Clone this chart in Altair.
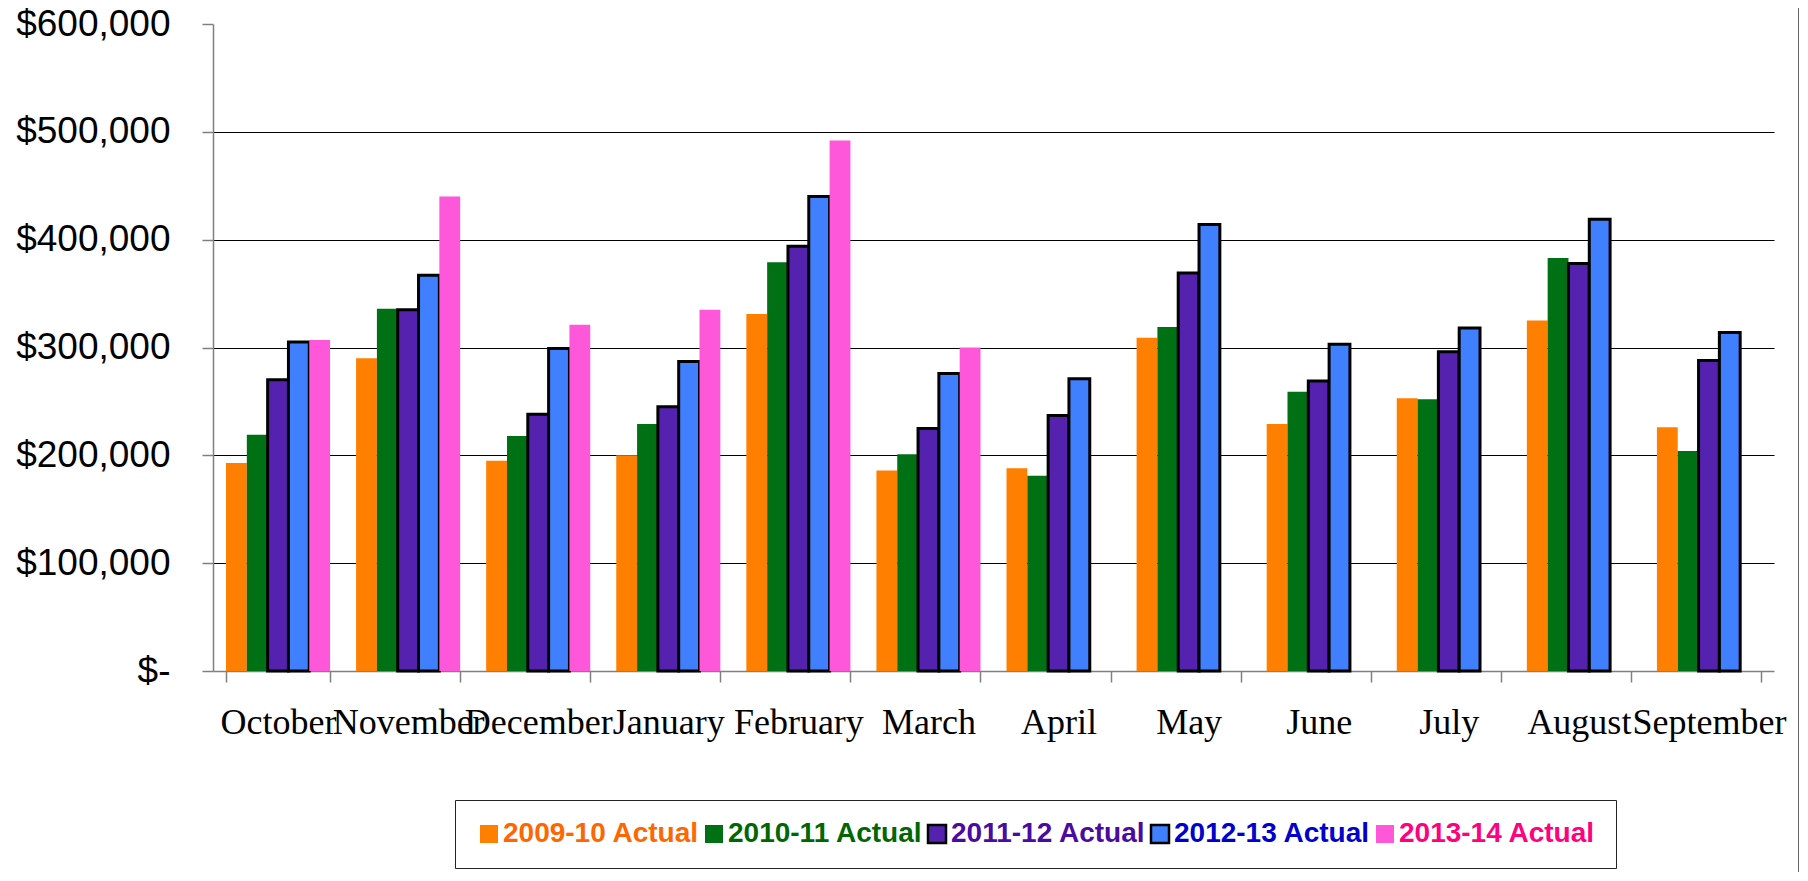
import altair as alt
import pandas as pd

months = ["October", "November", "December", "January", "February", "March",
          "April", "May", "June", "July", "August", "September"]
series = ["2009-10 Actual", "2010-11 Actual", "2011-12 Actual", "2012-13 Actual", "2013-14 Actual"]

v0910 = [193000, 290000, 195000, 200000, 331000, 186000, 188000, 309000, 229000, 253000, 325000, 226000]
v1011 = [219000, 336000, 218000, 229000, 379000, 201000, 181000, 319000, 259000, 252000, 383000, 204000]
v1112 = [270000, 335000, 238000, 245000, 394000, 225000, 237000, 369000, 269000, 296000, 378000, 288000]
v1213 = [305000, 367000, 299000, 287000, 440000, 276000, 271000, 414000, 303000, 318000, 419000, 314000]
v1314 = [307000, 440000, 321000, 335000, 492000, 300000, None, None, None, None, None, None]

bar_colors = ["#FF7F00", "#007015", "#5522B0", "#4080FF", "#FF57D9"]
label_colors = ["#FF6600", "#006600", "#4B0AA0", "#0000CC", "#FF0080"]
outlined = ["2011-12 Actual", "2012-13 Actual"]
y_ticks = [0, 100000, 200000, 300000, 400000, 500000, 600000]

rows = []
for s, vals in zip(series, [v0910, v1011, v1112, v1213, v1314]):
    for m, v in zip(months, vals):
        if v is not None:
            rows.append({"month": m, "series": s, "value": v})
df = pd.DataFrame(rows)

label_color_expr = " : ".join(
    [f"datum.value == '{s}' ? '{c}'" for s, c in zip(series, label_colors)]
) + " : 'black'"
stroke_w_expr = "indexof(" + str(outlined) + ", datum.value) >= 0 ? 2.5 : 0"

legend = alt.Legend(
    title=None, orient="none", legendX=242, legendY=776,
    direction="horizontal", columns=5,
    symbolType="square", symbolSize=324,
    symbolStrokeColor="black", symbolStrokeWidth=alt.ExprRef(stroke_w_expr),
    labelFont="Liberation Sans", labelFontSize=28, labelFontWeight="bold",
    labelColor=alt.ExprRef(label_color_expr),
    labelLimit=400, labelOffset=0, columnPadding=0,
    strokeColor="#222222", fillColor="white", padding=20,
)

bars = alt.Chart(df).mark_bar(stroke="black").encode(
    x=alt.X("month:N", sort=months,
            scale=alt.Scale(paddingInner=0.2, paddingOuter=0.1),
            axis=alt.Axis(title=None, tickBand="extent", labelAngle=0,
                          labelFont="Liberation Serif", labelFontSize=36,
                          labelColor="black", labelOverlap=False,
                          labelPadding=23, tickSize=11,
                          domainColor="#808080", tickColor="#808080",
                          domainWidth=1.5, tickWidth=1.5, grid=False)),
    xOffset=alt.XOffset("series:N", sort=series,
                        scale=alt.Scale(domain=series, paddingInner=0, paddingOuter=0)),
    y=alt.Y("value:Q",
            scale=alt.Scale(domain=[0, 600000], nice=False),
            axis=alt.Axis(title=None, values=y_ticks,
                          labelExpr="datum.value == 0 ? '$-' : '$' + format(datum.value, ',')",
                          labelFont="Liberation Sans", labelFontSize=37,
                          labelColor="black", labelPadding=32, tickSize=11,
                          domainColor="#808080", tickColor="#808080",
                          domainWidth=1.5, tickWidth=1.5,
                          gridColor="black", gridWidth=1.2,
                          gridOpacity={"condition": {"test": "datum.value == 0 || datum.value >= 600000",
                                                     "value": 0},
                                       "value": 1})),
    color=alt.Color("series:N",
                    scale=alt.Scale(domain=series, range=bar_colors),
                    legend=legend),
    strokeWidth=alt.condition(
        alt.FieldOneOfPredicate(field="series", oneOf=outlined),
        alt.value(3), alt.value(0)),
)

border = alt.Chart(pd.DataFrame({"b": [0]})).mark_rule(color="#333333", strokeWidth=1.5).encode(
    x=alt.value(1586), y=alt.value(-30), y2=alt.value(880)
)

chart = alt.layer(bars, border).properties(
    width=1561, height=647,
    autosize=alt.AutoSizeParams(type="none"),
    padding={"left": 205, "top": 16, "right": 25, "bottom": 201},
).configure_view(stroke=None)

chart.save("out.html", embed_options={"renderer": "svg", "actions": False})
